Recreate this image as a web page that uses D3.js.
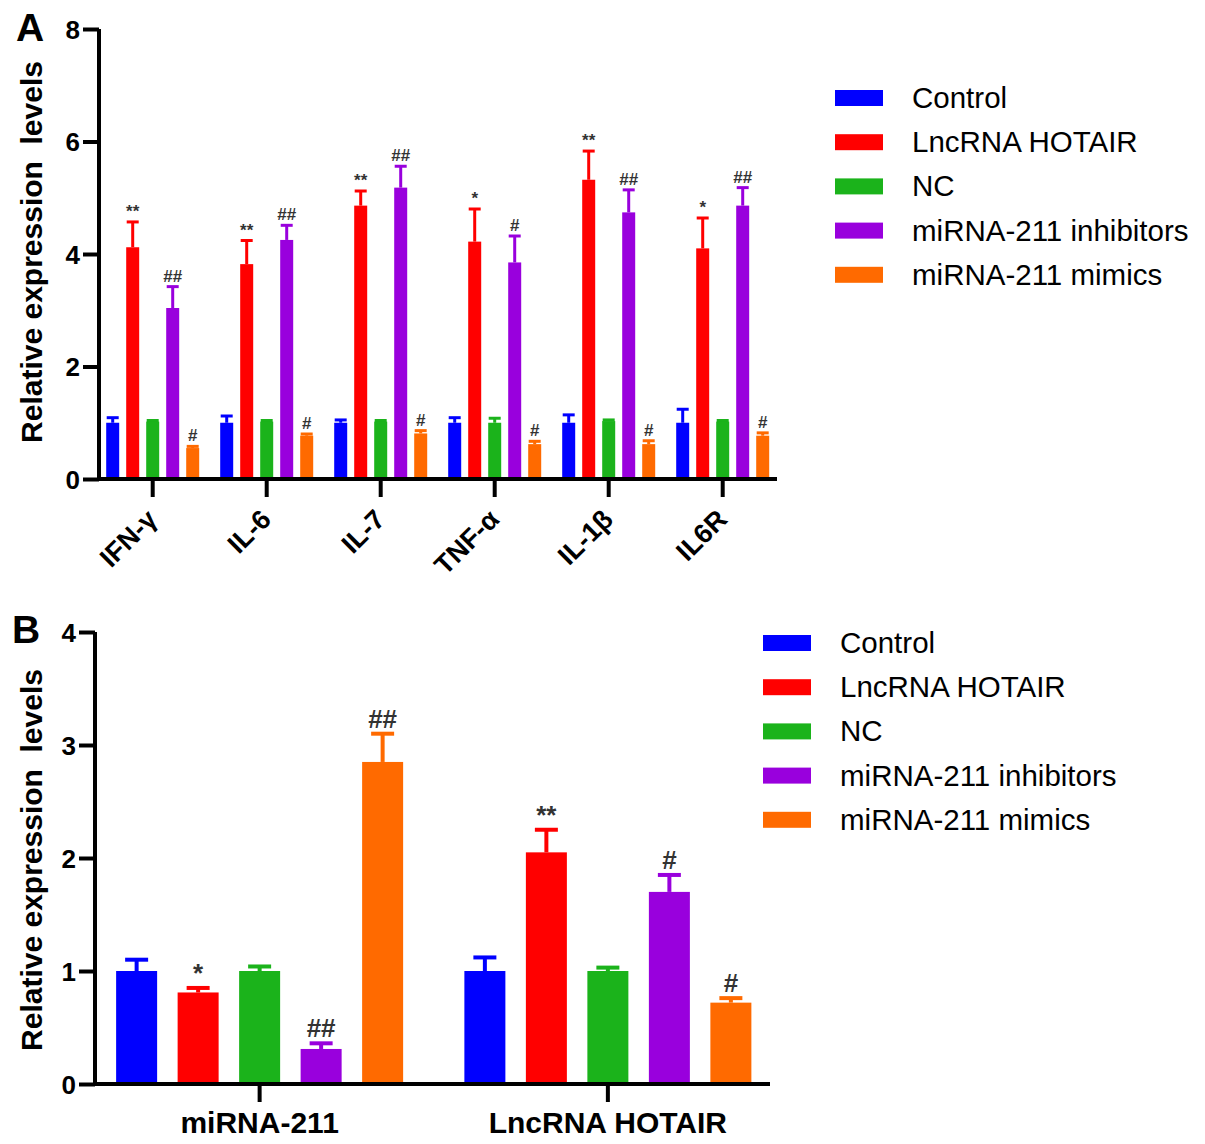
<!DOCTYPE html>
<html>
<head>
<meta charset="utf-8">
<script src="https://cdn.jsdelivr.net/npm/d3@7"></script>
<style>
  html, body { margin: 0; padding: 0; background: #fff; }
  svg { display: block; font-family: "Liberation Sans", Arial, sans-serif; }
</style>
</head>
<body>
<svg id="chart" width="1205" height="1144"></svg>
<script>
// ---------- DATA ----------
const seriesNames = ["Control", "LncRNA HOTAIR", "NC", "miRNA-211 inhibitors", "miRNA-211 mimics"];

// Panel A
const cytokines = ["IFN-γ", "IL-6", "IL-7", "TNF-α", "IL-1β", "IL6R"];
const aControl = [1.00, 1.00, 1.00, 1.00, 1.00, 1.00];
const aControlSD = [0.09, 0.12, 0.05, 0.09, 0.14, 0.24];
const aLnc = [4.12, 3.82, 4.86, 4.22, 5.32, 4.10];
const aLncSD = [0.45, 0.42, 0.26, 0.58, 0.51, 0.54];
const aNC = [1.02, 1.02, 1.02, 1.00, 1.03, 1.02];
const aNCSD = [0.02, 0.02, 0.02, 0.08, 0.02, 0.02];
const aInhib = [3.04, 4.25, 5.18, 3.85, 4.74, 4.86];
const aInhibSD = [0.38, 0.26, 0.38, 0.47, 0.40, 0.32];
const aMimic = [0.55, 0.77, 0.81, 0.62, 0.62, 0.77];
const aMimicSD = [0.03, 0.03, 0.05, 0.05, 0.06, 0.05];
const aLncMarks = ["**", "**", "**", "*", "**", "*"];
const aInhibMarks = ["##", "##", "##", "#", "##", "##"];
const aMimicMarks = ["#", "#", "#", "#", "#", "#"];
const aTicks = [0, 2, 4, 6, 8];

// Panel B
const targets = ["miRNA-211", "LncRNA HOTAIR"];
const bControl = [1.00, 1.00];
const bControlSD = [0.10, 0.12];
const bLnc = [0.81, 2.05];
const bLncSD = [0.04, 0.20];
const bNC = [1.00, 1.00];
const bNCSD = [0.04, 0.03];
const bInhib = [0.31, 1.70];
const bInhibSD = [0.05, 0.15];
const bMimic = [2.85, 0.72];
const bMimicSD = [0.25, 0.04];
const bLncMarks = ["*", "**"];
const bInhibMarks = ["##", "#"];
const bMimicMarks = ["##", "#"];
const bTicks = [0, 1, 2, 3, 4];

// ---------- STYLE ----------
const colors = ["#0000ff", "#ff0000", "#1bb31b", "#9900dd", "#ff6a00"];
const FONT = "'Liberation Sans', Arial, sans-serif";

const svg = d3.select("#chart");
svg.append("rect").attr("width", 1205).attr("height", 1144).attr("fill", "#fff");

function buildSeries(means, sds, marks) {
  return means.map((m, i) => ({ m, sd: sds[i], mark: marks ? marks[i] : "" }));
}

function drawPanel(cfg) {
  const g = svg.append("g");
  const x0 = d3.scaleBand().domain(cfg.cats).range(cfg.bandRange);
  const x1 = d3.scalePoint().domain(seriesNames).range(cfg.innerRange);
  const y = d3.scaleLinear().domain(cfg.yDomain).range([cfg.y0, cfg.yTop]);

  // bars
  cfg.series.forEach((ser, si) => {
    const gs = g.append("g");
    ser.forEach((d, ci) => {
      const cx = x0(cfg.cats[ci]) + x0.bandwidth() / 2 + x1(seriesNames[si]);
      const yTop = y(d.m + d.sd);
      gs.append("line")
        .attr("x1", cx).attr("x2", cx)
        .attr("y1", y(d.m)).attr("y2", yTop)
        .attr("stroke", colors[si]).attr("stroke-width", cfg.errW);
      gs.append("line")
        .attr("x1", cx - cfg.capW / 2).attr("x2", cx + cfg.capW / 2)
        .attr("y1", yTop).attr("y2", yTop)
        .attr("stroke", colors[si]).attr("stroke-width", cfg.errW);
      gs.append("rect")
        .attr("x", cx - cfg.barW / 2)
        .attr("y", y(d.m))
        .attr("width", cfg.barW)
        .attr("height", y(0) - y(d.m))
        .attr("fill", colors[si]);
      if (d.mark) {
        gs.append("text")
          .attr("x", cx)
          .attr("y", yTop - cfg.markGap)
          .attr("text-anchor", "middle")
          .attr("font-family", FONT)
          .attr("font-weight", "bold")
          .attr("font-size", cfg.markSize)
          .attr("fill", "#333")
          .text(d.mark);
      }
    });
  });

  // y axis
  const yAxis = d3.axisLeft(y).tickValues(cfg.ticks).tickSize(16).tickSizeOuter(0).tickPadding(3)
    .tickFormat(d3.format("d"));
  const ga = g.append("g").attr("transform", `translate(${cfg.axisX},0)`).call(yAxis);
  ga.select(".domain").attr("stroke", "#000").attr("stroke-width", 4)
    .attr("d", `M0,${cfg.yTop}V${cfg.y0 + 2}`);
  ga.selectAll(".tick line").attr("stroke", "#000").attr("stroke-width", 4);
  ga.selectAll(".tick text")
    .attr("font-family", FONT).attr("font-weight", "bold")
    .attr("font-size", cfg.tickFont).attr("fill", "#000")
    .attr("dy", "0.36em");

  // x axis
  const xAxis = d3.axisBottom(x0).tickSize(cfg.xTickLen).tickSizeOuter(0).tickFormat("");
  const gx = g.append("g").attr("transform", `translate(0,${cfg.y0})`).call(xAxis);
  gx.select(".domain").attr("stroke", "#000").attr("stroke-width", 4)
    .attr("d", `M${cfg.axisX - 2},0H${cfg.xEnd}`);
  gx.selectAll(".tick line").attr("stroke", "#000").attr("stroke-width", 4);

  // x labels
  const lab = g.append("g");
  cfg.cats.forEach(c => {
    const cx = x0(c) + x0.bandwidth() / 2;
    const t = lab.append("text")
      .attr("font-family", FONT).attr("font-weight", "bold")
      .attr("font-size", cfg.xFont).attr("fill", "#000")
      .text(c);
    if (cfg.rotate) {
      t.attr("text-anchor", "end")
        .attr("transform", `translate(${cx + cfg.xLabDx},${cfg.xLabY}) rotate(-45)`);
    } else {
      t.attr("text-anchor", "middle").attr("x", cx).attr("y", cfg.xLabY);
    }
  });

  // y title
  g.append("text")
    .attr("transform", `translate(${cfg.titleX},${cfg.titleY}) rotate(-90)`)
    .attr("text-anchor", "middle")
    .attr("font-family", FONT).attr("font-weight", "bold")
    .attr("font-size", 30).attr("fill", "#000")
    .attr("xml:space", "preserve")
    .style("white-space", "pre")
    .text("Relative expression  levels");

  // panel letter
  g.append("text")
    .attr("x", cfg.letterX).attr("y", cfg.letterY)
    .attr("font-family", FONT).attr("font-weight", "bold")
    .attr("font-size", 39).attr("fill", "#000")
    .text(cfg.letter);

  // legend
  const lg = g.append("g");
  seriesNames.forEach((n, i) => {
    const cy = cfg.legY + i * 44.2;
    lg.append("rect").attr("x", cfg.legX).attr("y", cy - 8)
      .attr("width", 48).attr("height", 16).attr("fill", colors[i]);
    lg.append("text").attr("x", cfg.legX + 77).attr("y", cy + 10)
      .attr("font-family", FONT).attr("font-size", 29.5).attr("fill", "#000")
      .text(n);
  });
}

drawPanel({
  cats: cytokines,
  series: [
    buildSeries(aControl, aControlSD, null),
    buildSeries(aLnc, aLncSD, aLncMarks),
    buildSeries(aNC, aNCSD, null),
    buildSeries(aInhib, aInhibSD, aInhibMarks),
    buildSeries(aMimic, aMimicSD, aMimicMarks)
  ],
  bandRange: [95.7, 779.7], innerRange: [-40, 40], barW: 13, capW: 12, errW: 3,
  yDomain: [0, 8], y0: 479, yTop: 29, ticks: aTicks, axisX: 99, xEnd: 777,
  xTickLen: 18, tickFont: 26, xFont: 27, rotate: true, xLabDx: 6, xLabY: 521,
  titleX: 42, titleY: 252, letter: "A", letterX: 16, letterY: 41,
  markSize: 17, markGap: 5,
  legX: 835, legY: 98
});

drawPanel({
  cats: targets,
  series: [
    buildSeries(bControl, bControlSD, null),
    buildSeries(bLnc, bLncSD, bLncMarks),
    buildSeries(bNC, bNCSD, null),
    buildSeries(bInhib, bInhibSD, bInhibMarks),
    buildSeries(bMimic, bMimicSD, bMimicMarks)
  ],
  bandRange: [85.5, 782], innerRange: [-123, 123], barW: 41, capW: 23, errW: 4,
  yDomain: [0, 4], y0: 1084, yTop: 632, ticks: bTicks, axisX: 95, xEnd: 770,
  xTickLen: 18, tickFont: 26, xFont: 30, rotate: false, xLabDx: 0, xLabY: 1133,
  titleX: 42, titleY: 860, letter: "B", letterX: 12, letterY: 643,
  markSize: 26, markGap: 6,
  legX: 763, legY: 643
});
</script>
</body>
</html>
